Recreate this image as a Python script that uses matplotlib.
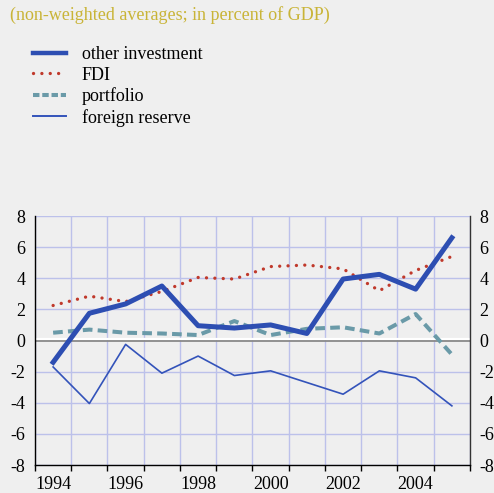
import numpy as np
import matplotlib
matplotlib.use('Agg')
import matplotlib.pyplot as plt
from matplotlib.lines import Line2D

years = list(range(1994, 2006))
other_investment = [-1.4, 1.75, 2.35, 3.5, 0.95, 0.8, 1.0, 0.45, 3.95, 4.25, 3.3, 6.6]
fdi = [2.25, 2.85, 2.5, 3.15, 4.05, 3.95, 4.75, 4.85, 4.6, 3.2, 4.5, 5.4]
portfolio = [0.5, 0.7, 0.5, 0.45, 0.35, 1.25, 0.35, 0.75, 0.85, 0.45, 1.7, -0.9]
foreign_reserve = [-1.7, -4.05, -0.25, -2.1, -1.0, -2.25, -1.95, -2.7, -3.45, -1.95, -2.4, -4.2]

year_labels = [1994, 1996, 1998, 2000, 2002, 2004]
y_ticks = [-8, -6, -4, -2, 0, 2, 4, 6, 8]

COL = {
    'bg': '#EFEFEF',
    'grid': '#BCC1EA',
    'other': '#2D4EB2',
    'fdi': '#C0392B',
    'portfolio': '#6A9AA8',
    'reserve': '#3353BA',
    'title': '#C9B437',
}

plt.rcParams['font.family'] = ['Liberation Serif', 'DejaVu Serif']

fig = plt.figure(figsize=(4.94, 4.93), dpi=100)
fig.patch.set_facecolor(COL['bg'])
ax = fig.add_axes([35 / 494, 28 / 493, 435 / 494, 249 / 493])
ax.set_facecolor(COL['bg'])

ax.set_xlim(1993.5, 2005.5)
ax.set_ylim(-8, 8)

# grid
for xb in np.arange(1993.5, 2006):
    ax.axvline(xb, color=COL['grid'], lw=1.0, zorder=0)
for yv in y_ticks:
    if yv != 0:
        ax.axhline(yv, color=COL['grid'], lw=1.0, zorder=0)
ax.axhline(0.08, color='white', lw=1.6, zorder=1)
ax.axhline(-0.04, color='#8A8A8A', lw=1.3, zorder=1)

fdi_style = (0, (0.01, 2.5))
ax.plot(years, portfolio, color=COL['portfolio'], lw=2.9, linestyle=(0, (2.4, 1.3)),
        dash_capstyle='butt', zorder=3)
ax.plot(years, fdi, color=COL['fdi'], lw=2.4, linestyle=fdi_style,
        dash_capstyle='round', zorder=4)
ax.plot(years, foreign_reserve, color=COL['reserve'], lw=1.2, zorder=4)
ax.plot(years, other_investment, color=COL['other'], lw=3.6, zorder=5)

# axes
ax.spines['top'].set_visible(False)
for s in ['left', 'right', 'bottom']:
    ax.spines[s].set_color('black')
    ax.spines[s].set_linewidth(1.0)
ax.spines['right'].set_color('#333333')

ax.set_xticks(np.arange(1993.5, 2006))
ax.set_xticklabels([])
ax.set_xticks(year_labels, minor=True)
ax.set_xticklabels([str(y) for y in year_labels], minor=True)
ax.tick_params(axis='x', which='major', direction='out', length=4, width=1, color='black')
ax.tick_params(axis='x', which='minor', length=0, pad=8, labelsize=13)

ax.set_yticks(y_ticks)
ax.set_yticklabels([str(v) for v in y_ticks])
ax.tick_params(axis='y', which='both', length=0, left=True, right=True,
               labelleft=True, labelright=True, labelsize=13, pad=7)

fig.text(10 / 494, 1 - 15 / 493, '(non-weighted averages; in percent of GDP)',
         color=COL['title'], fontsize=13, va='center', ha='left')

handles = [
    Line2D([0], [0], color=COL['other'], lw=3.2),
    Line2D([0], [0], color=COL['fdi'], lw=2.4, linestyle=fdi_style, dash_capstyle='round'),
    Line2D([0], [0], color=COL['portfolio'], lw=2.9, linestyle=(0, (1.6, 0.7))),
    Line2D([0], [0], color=COL['reserve'], lw=1.4),
]
labels = ['other investment', 'FDI', 'portfolio', 'foreign reserve']
fig.legend(handles, labels, loc='upper left', bbox_to_anchor=(33 / 494, 1 - 46 / 493),
           frameon=False, fontsize=13, handlelength=1.85, handletextpad=0.85,
           labelspacing=0.2, borderpad=0, borderaxespad=0)

fig.savefig('out.png', dpi=100, facecolor=COL['bg'])
